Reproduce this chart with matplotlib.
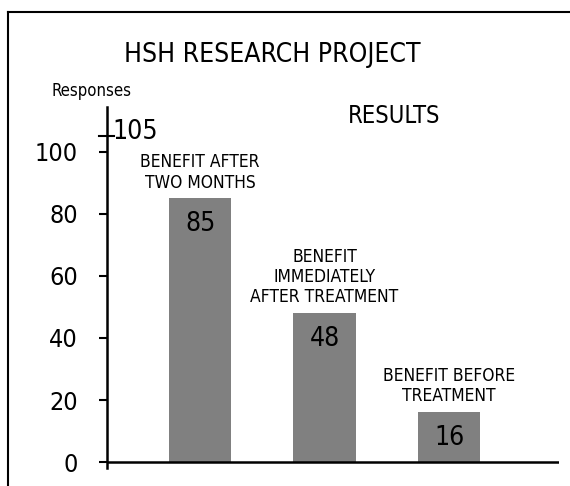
import numpy as np
import matplotlib.pyplot as plt
from matplotlib.lines import Line2D

# chart data
categories = ["BENEFIT AFTER\nTWO MONTHS", "BENEFIT\nIMMEDIATELY\nAFTER TREATMENT", "BENEFIT BEFORE\nTREATMENT"]
responses = [85, 48, 16]
y_ticks = [0, 20, 40, 60, 80, 100]
target = 105

plt.rcParams['font.family'] = ['DejaVu Sans']
plt.rcParams['font.stretch'] = 'condensed'

fig = plt.figure(figsize=(5.7, 4.86), dpi=100)
ax = fig.add_axes([0.1877, 0.0366, 0.7930, 0.7432])

# frame round the chart (top and left only)
fig.add_artist(Line2D([8/570, 1], [1 - 12.5/486, 1 - 12.5/486], color="black", lw=1.5))
fig.add_artist(Line2D([8/570, 8/570], [0, 1 - 12.5/486], color="black", lw=1.5))

x = np.arange(len(responses))
bars = ax.bar(x, responses, width=0.5, color="#808080")

for xi, val, cat in zip(x, responses, categories):
    ax.annotate(str(val), (xi, val), xytext=(0, -9), textcoords="offset points",
                ha="center", va="top", fontsize=19)
    ax.annotate(cat, (xi, val), xytext=(0, 5), textcoords="offset points",
                ha="center", va="bottom", fontsize=12.5, linespacing=1.15)

ax.set_xlim(-0.747, 2.883)
ax.set_ylim(-2, 114.5)
ax.set_yticks(y_ticks)
ax.tick_params(axis="y", direction="out", length=6, width=1.5, pad=15, labelsize=18)
ax.set_xticks([])
for side in ["top", "right", "bottom"]:
    ax.spines[side].set_visible(False)
ax.spines["left"].set_linewidth(1.8)
ax.axhline(0, color="black", lw=1.8)

# 105 marker crossing the axis
ax.plot([-0.018, 0.015], [target, target], color="black", lw=1.5,
        transform=ax.get_yaxis_transform(), clip_on=False)
ax.text(0.012, target + 1.5, str(target), transform=ax.get_yaxis_transform(),
        ha="left", va="center", fontsize=19)

fig.text(0.477, 0.887, "HSH RESEARCH PROJECT", ha="center", va="center", fontsize=19)
fig.text(0.691, 0.761, "RESULTS", ha="center", va="center", fontsize=17)
fig.text(0.161, 0.813, "Responses", ha="center", va="center", fontsize=12)

fig.savefig("out.png", dpi=100)
